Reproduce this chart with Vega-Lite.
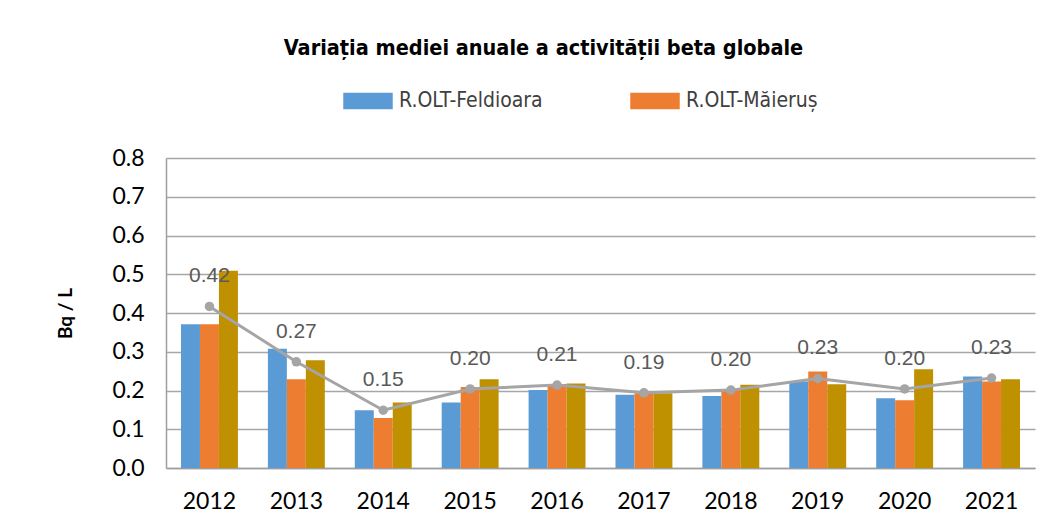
{
  "$schema": "https://vega.github.io/schema/vega-lite/v6.json",
  "width": 869,
  "height": 310,
  "autosize": "none",
  "padding": {"left": 166, "top": 158, "right": 22, "bottom": 60},
  "background": "white",
  "config": {"view": {"stroke": null}},
  "title": {
    "text": "Variația mediei  anuale a activității beta globale",
    "font": "DejaVu Sans Condensed",
    "fontSize": 21.5,
    "fontWeight": "bold",
    "color": "#000000",
    "anchor": "middle",
    "dx": -57,
    "offset": 17
  },
  "datasets": {
    "bars": [
      {"an": "2012", "statie": "R.OLT-Feldioara", "val": 0.371},
      {"an": "2012", "statie": "R.OLT-Măieruș", "val": 0.371},
      {"an": "2012", "statie": "R.OLT-Hoghiz", "val": 0.509},
      {"an": "2013", "statie": "R.OLT-Feldioara", "val": 0.308},
      {"an": "2013", "statie": "R.OLT-Măieruș", "val": 0.229},
      {"an": "2013", "statie": "R.OLT-Hoghiz", "val": 0.278},
      {"an": "2014", "statie": "R.OLT-Feldioara", "val": 0.149},
      {"an": "2014", "statie": "R.OLT-Măieruș", "val": 0.129},
      {"an": "2014", "statie": "R.OLT-Hoghiz", "val": 0.169},
      {"an": "2015", "statie": "R.OLT-Feldioara", "val": 0.169},
      {"an": "2015", "statie": "R.OLT-Măieruș", "val": 0.209},
      {"an": "2015", "statie": "R.OLT-Hoghiz", "val": 0.229},
      {"an": "2016", "statie": "R.OLT-Feldioara", "val": 0.201},
      {"an": "2016", "statie": "R.OLT-Măieruș", "val": 0.217},
      {"an": "2016", "statie": "R.OLT-Hoghiz", "val": 0.218},
      {"an": "2017", "statie": "R.OLT-Feldioara", "val": 0.189},
      {"an": "2017", "statie": "R.OLT-Măieruș", "val": 0.193},
      {"an": "2017", "statie": "R.OLT-Hoghiz", "val": 0.193},
      {"an": "2018", "statie": "R.OLT-Feldioara", "val": 0.186},
      {"an": "2018", "statie": "R.OLT-Măieruș", "val": 0.201},
      {"an": "2018", "statie": "R.OLT-Hoghiz", "val": 0.215},
      {"an": "2019", "statie": "R.OLT-Feldioara", "val": 0.223},
      {"an": "2019", "statie": "R.OLT-Măieruș", "val": 0.249},
      {"an": "2019", "statie": "R.OLT-Hoghiz", "val": 0.216},
      {"an": "2020", "statie": "R.OLT-Feldioara", "val": 0.180},
      {"an": "2020", "statie": "R.OLT-Măieruș", "val": 0.175},
      {"an": "2020", "statie": "R.OLT-Hoghiz", "val": 0.255},
      {"an": "2021", "statie": "R.OLT-Feldioara", "val": 0.236},
      {"an": "2021", "statie": "R.OLT-Măieruș", "val": 0.223},
      {"an": "2021", "statie": "R.OLT-Hoghiz", "val": 0.229}
    ],
    "medie": [
      {"an": "2012", "val": 0.417},
      {"an": "2013", "val": 0.274},
      {"an": "2014", "val": 0.149},
      {"an": "2015", "val": 0.204},
      {"an": "2016", "val": 0.214},
      {"an": "2017", "val": 0.194},
      {"an": "2018", "val": 0.201},
      {"an": "2019", "val": 0.231},
      {"an": "2020", "val": 0.204},
      {"an": "2021", "val": 0.232}
    ]
  },
  "encoding": {
    "x": {
      "field": "an",
      "type": "nominal",
      "scale": {"paddingInner": 0.345, "paddingOuter": 0.1725},
      "axis": {
        "title": null,
        "labelAngle": 0,
        "ticks": false,
        "labelFont": "Lato",
        "labelFontSize": 23,
        "labelColor": "#000000",
        "labelPadding": 22,
        "domainColor": "#9E9E9E",
        "domainWidth": 1.5
      }
    },
    "y": {
      "field": "val",
      "type": "quantitative",
      "scale": {"domain": [0, 0.8], "nice": false},
      "axis": {
        "title": "Bq / L",
        "titleFont": "Lato",
        "titleFontSize": 19,
        "titleFontWeight": "bold",
        "titleColor": "#000000",
        "titlePadding": 36,
        "values": [0, 0.1, 0.2, 0.3, 0.4, 0.5, 0.6, 0.7, 0.8],
        "format": ".1f",
        "labelOverlap": false,
        "ticks": false,
        "labelFont": "Lato",
        "labelFontSize": 23,
        "labelColor": "#000000",
        "labelPadding": 22,
        "grid": true,
        "gridColor": "#A6A6A6",
        "gridWidth": 1.3,
        "domainColor": "#9E9E9E",
        "domainWidth": 1.5
      }
    }
  },
  "layer": [
    {
      "data": {"name": "bars"},
      "mark": {"type": "bar"},
      "encoding": {
        "xOffset": {"field": "statie", "type": "nominal", "sort": ["R.OLT-Feldioara", "R.OLT-Măieruș", "R.OLT-Hoghiz"], "scale": {"paddingInner": 0}},
        "color": {
          "field": "statie",
          "type": "nominal",
          "scale": {
            "domain": ["R.OLT-Feldioara", "R.OLT-Măieruș", "R.OLT-Hoghiz"],
            "range": ["#5B9BD5", "#ED7D31", "#BF9000"]
          },
          "legend": {
            "title": null,
            "values": ["R.OLT-Feldioara", "R.OLT-Măieruș"],
            "orient": "none",
            "legendX": 177,
            "legendY": -82,
            "direction": "horizontal",
            "columns": 2,
            "columnPadding": 87,
            "symbolType": "M-1,-0.33H1V0.33H-1Z",
            "symbolSize": 2450,
            "symbolStrokeWidth": 0,
            "labelFont": "DejaVu Sans Condensed",
            "labelFontSize": 21,
            "labelColor": "#404040",
            "labelOffset": 6,
            "labelLimit": 300
          }
        }
      }
    },
    {
      "data": {"name": "medie"},
      "mark": {"type": "line", "color": "#A5A5A5", "strokeWidth": 3, "point": {"filled": true, "size": 90, "color": "#A5A5A5"}}
    },
    {
      "data": {"name": "medie"},
      "mark": {"type": "text", "dy": -30, "font": "Liberation Sans", "fontSize": 21, "color": "#595959"},
      "encoding": {
        "text": {"field": "val", "type": "quantitative", "format": ".2f"}
      }
    }
  ]
}
